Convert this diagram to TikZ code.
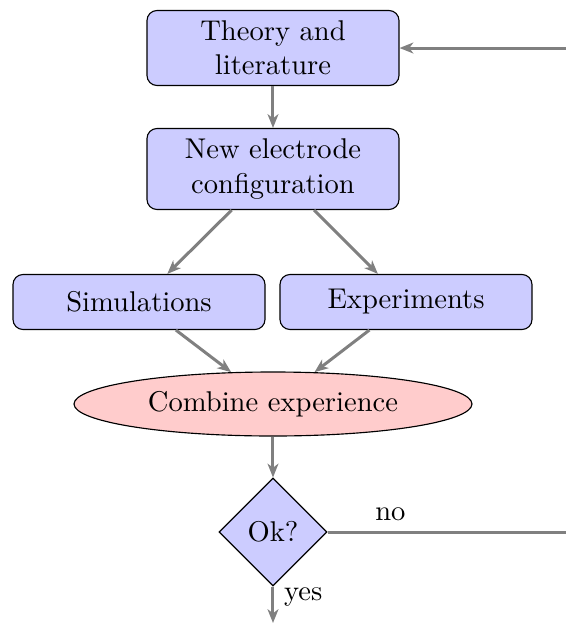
\documentclass[tikz,border=0pt]{standalone}
\usetikzlibrary{shapes.geometric,arrows.meta}
\begin{document}
\begin{tikzpicture}[x=0.35pt,y=-0.35pt,
  block/.style={draw=black, fill=blue!20, rounded corners=3.5pt, minimum width=88.2pt, align=center, inner sep=2pt},
  cloud/.style={draw=black, fill=red!20, ellipse, minimum width=139.3pt, minimum height=22.4pt, inner sep=0pt},
  decision/.style={draw=black, fill=blue!20, diamond, minimum width=37.8pt, minimum height=37.8pt, inner sep=0pt},
  line/.style={draw=gray, line width=1.05pt, -{Stealth[length=4.8pt,width=3.8pt,inset=1.4pt]}},
  plainline/.style={draw=gray, line width=1.05pt}]
\useasboundingbox (0,0) rectangle (566,625);
\node[block, minimum height=26.25pt] (theory) at (273,48) {Theory and\\literature};
\node[block, minimum height=28.35pt] (config) at (273,169) {New electrode\\configuration};
\node[block, minimum height=19.25pt] (sim) at (139,302) {Simulations};
\node[block, minimum height=19.25pt] (exp) at (406,302) {Experiments};
\node[cloud] (comb) at (273,404) {Combine experience};
\node[decision] (ok) at (273,532) {Ok?};
\coordinate (out) at (273,623);
\coordinate (c1) at (569,532);
\coordinate (c2) at (569,48);
\path[line] (theory) -- (config);
\path[line] (config) -- (sim);
\path[line] (config) -- (exp);
\path[line] (sim) -- (comb);
\path[line] (exp) -- (comb);
\path[line] (comb) -- (ok);
\path[line] (ok) -- node[right, pos=0.3, text=black] (yes) {yes} (out);
\path[plainline] (ok) -- node[above, pos=0.26, text=black] (no) {no} (c1);
\path[line] (c1) -- (c2) -- (theory);
\end{tikzpicture}
\end{document}
